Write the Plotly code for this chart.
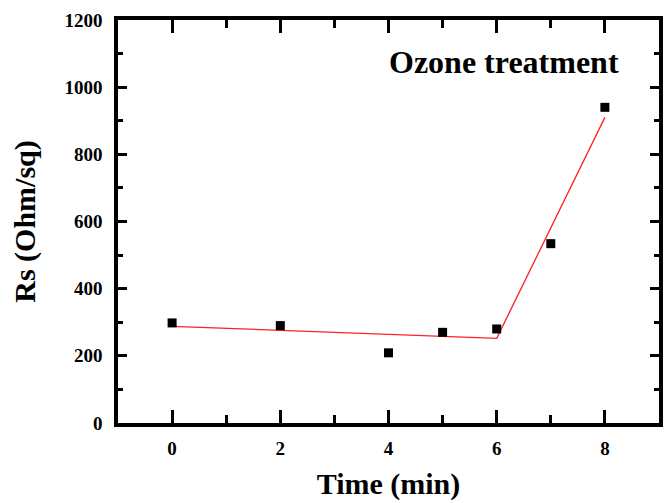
import plotly.graph_objects as go

time_min = [0, 2, 4, 5, 6, 7, 8]
rs_values = [298, 290, 209, 270, 280, 534, 940]

fit_x = [0, 6, 8]
fit_y = [288, 252, 910]

x_ticks = [0, 2, 4, 6, 8]
y_ticks = [0, 200, 400, 600, 800, 1000, 1200]

font_family = "Liberation Serif"

fig = go.Figure()
fig.add_trace(go.Scatter(x=fit_x, y=fit_y, mode="lines",
                         line=dict(color="#ff2020", width=1.3), showlegend=False))
fig.add_trace(go.Scatter(x=time_min, y=rs_values, mode="markers",
                         marker=dict(symbol="square", size=9, color="black"),
                         showlegend=False))

axis_common = dict(
    showgrid=False, zeroline=False, showline=True, linecolor="black", linewidth=3.5,
    mirror="allticks", ticks="inside", tickwidth=3, tickcolor="black",
    tickfont=dict(family=font_family, size=19, color="black", weight="bold"),
)

fig.update_xaxes(range=[-1, 9], tickvals=x_ticks, ticktext=[str(v) for v in x_ticks],
                 ticklen=13, ticklabelstandoff=5,
                 minor=dict(dtick=1, ticklen=8, tickwidth=3, tickcolor="black", ticks="inside"),
                 title=dict(text="<b>Time (min)</b>", font=dict(family=font_family, size=30, color="black"),
                            standoff=16),
                 **axis_common)
fig.update_yaxes(range=[0, 1200], tickvals=y_ticks, ticktext=[str(v) for v in y_ticks],
                 ticklen=9, ticklabelstandoff=8,
                 minor=dict(dtick=100, ticklen=5, tickwidth=3, tickcolor="black", ticks="inside"),
                 title=dict(text="<b>Rs (Ohm/sq)</b>", font=dict(family=font_family, size=30, color="black"),
                            standoff=21),
                 **axis_common)

fig.add_annotation(x=0.714, y=0.896, xref="paper", yref="paper", xanchor="center", yanchor="middle",
                   text="<b>Ozone treatment</b>", showarrow=False,
                   font=dict(family=font_family, size=32, color="black"))

fig.update_layout(width=666, height=503, margin=dict(l=118, r=3, t=20, b=80),
                  paper_bgcolor="white", plot_bgcolor="white")

fig.write_html("out.html", config={"displayModeBar": False},
               post_script="document.body.style.margin='0';document.body.style.overflow='hidden';")
